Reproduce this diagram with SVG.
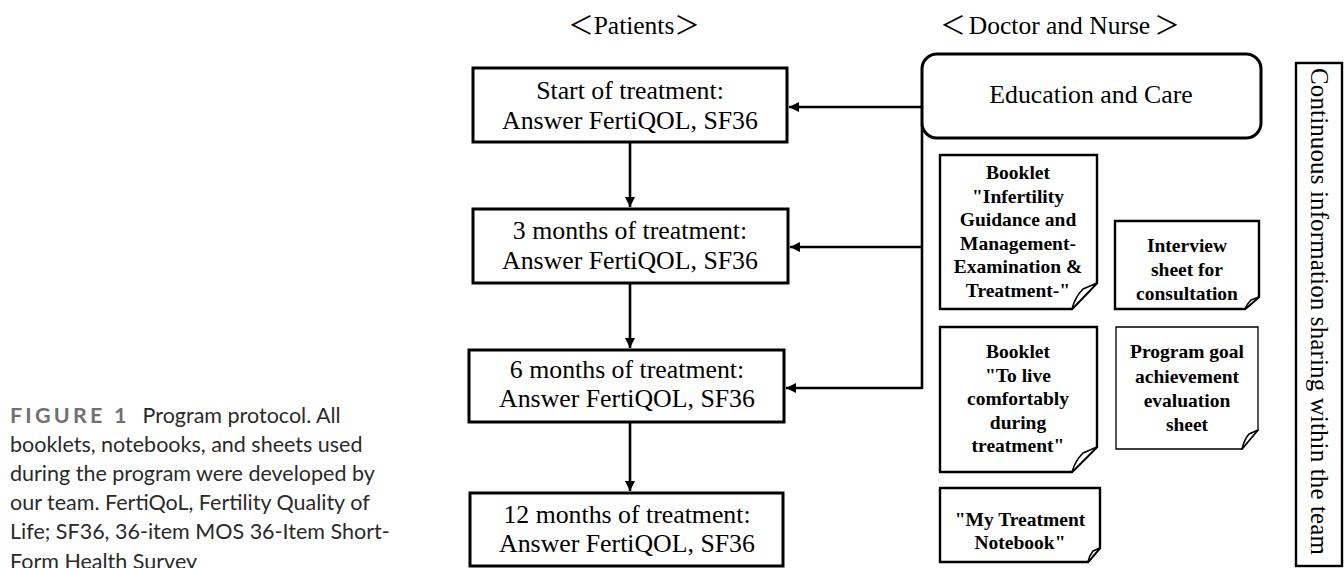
<svg xmlns="http://www.w3.org/2000/svg" width="1344" height="568" viewBox="0 0 1344 568">
<defs>
<marker id="ah" markerUnits="userSpaceOnUse" markerWidth="10" markerHeight="10" refX="10" refY="5" orient="auto">
<path d="M0,0 L10,5 L0,10 Z" fill="#000"/>
</marker>
<style>
.box{fill:#fff;stroke:#000;stroke-width:3}
.note{fill:#fff;stroke:#000;stroke-width:2.4;stroke-linejoin:miter}
.thin{stroke-width:1.3}
.flap{fill:#fff;stroke:#000;stroke-width:1.6;stroke-linejoin:round}
.ser{font-family:"Liberation Serif","Times New Roman",serif;fill:#000}
.pt{font-size:25.8px;text-anchor:middle}
.bk{font-size:19.5px;font-weight:bold;text-anchor:middle}
.hd{font-family:"Liberation Serif","Noto Sans CJK JP",serif;font-size:25.5px;text-anchor:middle}
.cap{font-family:Lato,"Liberation Sans",sans-serif;font-size:21.5px;fill:#2a2a2a}
.conn{fill:none;stroke:#000;stroke-width:2.6}
</style>
</defs>

<g id="caption">
<text class="cap" x="10" y="423"><tspan fill="#707070" font-weight="bold" letter-spacing="3.2">FIGURE 1</tspan><tspan dx="13">Program protocol. All</tspan></text>
<text class="cap" x="10" y="452">booklets, notebooks, and sheets used</text>
<text class="cap" x="10" y="481">during the program were developed by</text>
<text class="cap" x="10" y="510">our team. FertiQoL, Fertility Quality of</text>
<text class="cap" x="10" y="539">Life; SF36, 36-item MOS 36-Item Short-</text>
<text class="cap" x="10" y="569">Form Health Survey</text>
</g>

<g id="header-patients"><text class="hd" x="634" y="34">＜Patients＞</text></g>
<g id="header-staff"><text class="hd" x="1060" y="34">＜<tspan dx="3">Doctor and Nurse</tspan><tspan dx="4">＞</tspan></text></g>

<g id="connectors">
<path class="conn" d="M922,124 V389"/>
<path class="conn" d="M922,107 H789" marker-end="url(#ah)"/>
<path class="conn" d="M922,247 H790" marker-end="url(#ah)"/>
<path class="conn" d="M922,388 H786" marker-end="url(#ah)"/>
<path class="conn" d="M630,143 V207" marker-end="url(#ah)"/>
<path class="conn" d="M630,284 V348" marker-end="url(#ah)"/>
<path class="conn" d="M630,423 V491" marker-end="url(#ah)"/>
</g>

<g id="start">
<rect class="box" x="473" y="68" width="314" height="74"/>
<text class="ser pt" x="630" y="99">Start of treatment:</text>
<text class="ser pt" x="630" y="129">Answer FertiQOL, SF36</text>
</g>
<g id="m3">
<rect class="box" x="473" y="209" width="315" height="74"/>
<text class="ser pt" x="630" y="239">3 months of treatment:</text>
<text class="ser pt" x="630" y="269">Answer FertiQOL, SF36</text>
</g>
<g id="m6">
<rect class="box" x="469" y="350" width="315" height="72"/>
<text class="ser pt" x="627" y="378">6 months of treatment:</text>
<text class="ser pt" x="627" y="407">Answer FertiQOL, SF36</text>
</g>
<g id="m12">
<rect class="box" x="470" y="493" width="313" height="73"/>
<text class="ser pt" x="627" y="523">12 months of treatment:</text>
<text class="ser pt" x="627" y="552">Answer FertiQOL, SF36</text>
</g>

<g id="education">
<rect class="box" x="922" y="54" width="339" height="84" rx="15" ry="15"/>
<text class="ser pt" x="1091" y="103">Education and Care</text>
</g>

<g id="booklet1">
<path class="note" d="M940,155 H1097 V283 L1072,309 H940 Z"/>
<path class="flap" d="M1097,283 L1083,289 Q1075,297 1072,309 Z"/>
<text class="ser bk" x="1018" y="179">Booklet</text>
<text class="ser bk" x="1018" y="202.5">"Infertility</text>
<text class="ser bk" x="1018" y="226">Guidance and</text>
<text class="ser bk" x="1018" y="249.5">Management-</text>
<text class="ser bk" x="1018" y="273">Examination &amp;</text>
<text class="ser bk" x="1018" y="296.5">Treatment-"</text>
</g>

<g id="interview">
<path class="note" d="M1115,221 H1259 V297 L1245,309 H1115 Z"/>
<path class="flap" d="M1259,297 L1251,300 Q1247,304 1245,309 Z"/>
<text class="ser bk" x="1187" y="252">Interview</text>
<text class="ser bk" x="1187" y="276">sheet for</text>
<text class="ser bk" x="1187" y="300">consultation</text>
</g>

<g id="booklet2">
<path class="note" d="M940,327 H1097 V447 L1072,472 H940 Z"/>
<path class="flap" d="M1097,447 L1083,453 Q1075,461 1072,472 Z"/>
<text class="ser bk" x="1018" y="358">Booklet</text>
<text class="ser bk" x="1018" y="381.5">"To live</text>
<text class="ser bk" x="1018" y="405">comfortably</text>
<text class="ser bk" x="1018" y="428.5">during</text>
<text class="ser bk" x="1018" y="452">treatment"</text>
</g>

<g id="program-goal">
<path class="note thin" d="M1116,327 H1258 V430 L1242,449 H1116 Z"/>
<path class="flap thin" d="M1258,430 L1249,434 Q1244,440 1242,449 Z"/>
<text class="ser bk" x="1187" y="358">Program goal</text>
<text class="ser bk" x="1187" y="383">achievement</text>
<text class="ser bk" x="1187" y="407">evaluation</text>
<text class="ser bk" x="1187" y="431">sheet</text>
</g>

<g id="notebook">
<path class="note" d="M940,488 H1100 V548 L1088,562 H940 Z"/>
<path class="flap" d="M1100,548 L1093,551 Q1089,556 1088,562 Z"/>
<text class="ser bk" x="1020" y="526">"My Treatment</text>
<text class="ser bk" x="1020" y="549">Notebook"</text>
</g>

<g id="team-sharing">
<rect x="1296" y="63" width="46" height="503" fill="#fff" stroke="#000" stroke-width="2.4"/>
<text class="ser" font-size="25" transform="translate(1311,68) rotate(90)" x="0" y="0" textLength="487" lengthAdjust="spacing">Continuous information sharing within the team</text>
</g>
</svg>
